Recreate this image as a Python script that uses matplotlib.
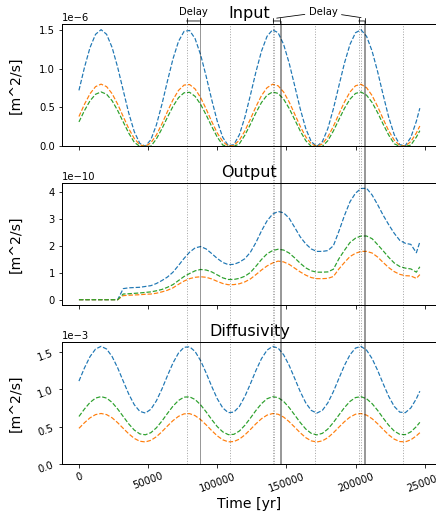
import matplotlib.pyplot as plt
import numpy as np
from matplotlib.lines import Line2D
from matplotlib.transforms import blended_transform_factory

# time axis [yr]
time = np.append(np.arange(0, 244001, 4000), 246500)

# input [1e-6 m^2/s]
input_blue = [0.720, 1.016, 1.270, 1.440, 1.500, 1.440, 1.270, 1.016, 0.720, 0.429,
              0.189, 0.039, 0.002, 0.086, 0.276, 0.541, 0.840, 1.125, 1.350, 1.478,
              1.490, 1.384, 1.176, 0.900, 0.600, 0.324, 0.116, 0.010, 0.022, 0.150,
              0.375, 0.660, 0.959, 1.224, 1.414, 1.498, 1.461, 1.311, 1.071, 0.780,
              0.484, 0.230, 0.060, 0.000, 0.060, 0.230, 0.484, 0.780, 1.071, 1.311,
              1.461, 1.498, 1.414, 1.224, 0.959, 0.660, 0.375, 0.150, 0.022, 0.010,
              0.116, 0.324, 0.491]
input_orange = [0.384, 0.542, 0.677, 0.768, 0.800, 0.768, 0.677, 0.542, 0.384, 0.229,
                0.101, 0.021, 0.001, 0.046, 0.147, 0.289, 0.448, 0.600, 0.720, 0.788,
                0.795, 0.738, 0.627, 0.480, 0.320, 0.173, 0.062, 0.005, 0.012, 0.080,
                0.200, 0.352, 0.511, 0.653, 0.754, 0.799, 0.779, 0.699, 0.571, 0.416,
                0.258, 0.123, 0.032, 0.000, 0.032, 0.123, 0.258, 0.416, 0.571, 0.699,
                0.779, 0.799, 0.754, 0.653, 0.511, 0.352, 0.200, 0.080, 0.012, 0.005,
                0.062, 0.173, 0.262]
input_green = [0.315, 0.461, 0.586, 0.670, 0.700, 0.670, 0.586, 0.461, 0.315, 0.171,
               0.053, 0.000, 0.000, 0.002, 0.096, 0.227, 0.375, 0.515, 0.626, 0.689,
               0.695, 0.643, 0.540, 0.404, 0.256, 0.120, 0.017, 0.000, 0.000, 0.034,
               0.145, 0.285, 0.433, 0.564, 0.658, 0.699, 0.681, 0.607, 0.489, 0.345,
               0.199, 0.074, 0.000, 0.000, 0.000, 0.074, 0.199, 0.345, 0.489, 0.607,
               0.681, 0.699, 0.658, 0.564, 0.433, 0.285, 0.145, 0.034, 0.000, 0.000,
               0.017, 0.120, 0.202]

# output [1e-10 m^2/s]
output_blue = [0, 0, 0, 0, 0, 0, 0, 0, 0.41, 0.44,
               0.45, 0.46, 0.49, 0.52, 0.60, 0.71, 0.84, 1.02, 1.27, 1.53,
               1.76, 1.92, 1.97, 1.88, 1.71, 1.53, 1.38, 1.30, 1.31, 1.39,
               1.52, 1.76, 2.12, 2.55, 2.92, 3.17, 3.27, 3.22, 3.02, 2.68,
               2.33, 2.07, 1.88, 1.79, 1.79, 1.82, 2.00, 2.54, 3.12, 3.63,
               3.95, 4.12, 4.13, 3.88, 3.52, 3.13, 2.78, 2.46, 2.20, 2.09,
               2.05, 1.74, 2.14]
output_orange = [0, 0, 0, 0, 0, 0, 0, 0, 0.15, 0.165,
                 0.175, 0.185, 0.20, 0.21, 0.24, 0.29, 0.35, 0.44, 0.57, 0.69,
                 0.78, 0.83, 0.85, 0.83, 0.77, 0.68, 0.60, 0.555, 0.56, 0.59,
                 0.66, 0.77, 0.93, 1.10, 1.25, 1.36, 1.43, 1.40, 1.31, 1.17,
                 1.03, 0.91, 0.82, 0.78, 0.78, 0.79, 0.86, 1.14, 1.38, 1.60,
                 1.72, 1.79, 1.79, 1.73, 1.58, 1.38, 1.19, 1.04, 0.94, 0.89,
                 0.88, 0.79, 0.93]
output_green = [0, 0, 0, 0, 0, 0, 0, 0, 0.21, 0.22,
                0.235, 0.25, 0.27, 0.29, 0.33, 0.38, 0.46, 0.56, 0.71, 0.86,
                0.97, 1.07, 1.12, 1.10, 1.03, 0.92, 0.81, 0.75, 0.75, 0.79,
                0.87, 1.01, 1.24, 1.49, 1.70, 1.82, 1.87, 1.84, 1.73, 1.55,
                1.35, 1.18, 1.07, 1.02, 1.02, 1.03, 1.13, 1.52, 1.83, 2.12,
                2.28, 2.36, 2.36, 2.26, 2.04, 1.81, 1.57, 1.36, 1.23, 1.17,
                1.14, 1.02, 1.22]

# diffusivity [1e-3 m^2/s]
diff_blue = [1.107, 1.283, 1.433, 1.534, 1.570, 1.534, 1.433, 1.283, 1.107, 0.934,
             0.792, 0.703, 0.681, 0.731, 0.844, 1.001, 1.179, 1.348, 1.481, 1.557,
             1.564, 1.501, 1.378, 1.214, 1.036, 0.872, 0.749, 0.686, 0.693, 0.769,
             0.903, 1.071, 1.249, 1.406, 1.519, 1.569, 1.547, 1.458, 1.316, 1.143,
             0.967, 0.817, 0.716, 0.680, 0.716, 0.817, 0.967, 1.143, 1.316, 1.458,
             1.547, 1.569, 1.519, 1.406, 1.249, 1.071, 0.903, 0.769, 0.693, 0.686,
             0.749, 0.872, 0.972]
diff_orange = [0.477, 0.552, 0.617, 0.660, 0.675, 0.660, 0.617, 0.552, 0.477, 0.404,
               0.343, 0.305, 0.296, 0.317, 0.365, 0.432, 0.508, 0.580, 0.637, 0.670,
               0.673, 0.646, 0.593, 0.523, 0.447, 0.377, 0.324, 0.297, 0.301, 0.333,
               0.390, 0.462, 0.538, 0.605, 0.653, 0.674, 0.665, 0.627, 0.566, 0.493,
               0.418, 0.353, 0.310, 0.295, 0.310, 0.353, 0.418, 0.493, 0.566, 0.627,
               0.665, 0.674, 0.653, 0.605, 0.538, 0.462, 0.390, 0.333, 0.301, 0.297,
               0.324, 0.377, 0.419]
diff_green = [0.635, 0.735, 0.822, 0.880, 0.900, 0.880, 0.822, 0.735, 0.635, 0.536,
              0.454, 0.403, 0.391, 0.419, 0.484, 0.574, 0.676, 0.773, 0.849, 0.893,
              0.897, 0.861, 0.790, 0.696, 0.594, 0.500, 0.430, 0.393, 0.397, 0.441,
              0.518, 0.614, 0.716, 0.806, 0.871, 0.899, 0.887, 0.836, 0.754, 0.655,
              0.555, 0.468, 0.410, 0.390, 0.410, 0.468, 0.555, 0.655, 0.754, 0.836,
              0.887, 0.899, 0.871, 0.806, 0.716, 0.614, 0.518, 0.441, 0.397, 0.393,
              0.430, 0.500, 0.557]

# marker times [yr]
peak_times = [77800, 109100, 140400, 141300, 171000, 202300, 203600, 234200]
delayed_times = [87300, 145300, 145900, 206200, 206800]
delays = [(77800, 87300), (140400, 145500), (202300, 206600)]

plt.rcParams['axes.linewidth'] = 1.0
fig, (ax1, ax2, ax3) = plt.subplots(3, 1, sharex=True, figsize=(436/72, 518/72), dpi=72)
fig.subplots_adjust(left=0.142, right=1.002, bottom=0.104, top=0.954, hspace=0.296)

panels = [(ax1, [input_blue, input_orange, input_green], 1e-6, 'Input'),
          (ax2, [output_blue, output_orange, output_green], 1e-10, 'Output'),
          (ax3, [diff_blue, diff_orange, diff_green], 1e-3, 'Diffusivity')]
for ax, series, scale, title in panels:
    for vals, c in zip(series, ['C0', 'C1', 'C2']):
        ax.plot(time, np.array(vals) * scale, '--', color=c, lw=1.2)
    ax.set_title(title, fontsize=16)
    ax.set_ylabel('[m^2/s]', fontsize=14)
    ax.yaxis.set_label_coords(-0.105, 0.5)

ax1.set_ylim(bottom=0)
ax3.set_ylim(bottom=0)
ax3.ticklabel_format(axis='y', style='sci', scilimits=(0, 0))
ax3.set_xlabel('Time [yr]', fontsize=14)
ax3.tick_params(axis='both', labelrotation=20)

trans = blended_transform_factory(ax3.transData, fig.transFigure)
for t in peak_times:
    fig.add_artist(Line2D([t, t], [0.104, 0.953], transform=trans,
                          ls=':', lw=1, color='k', alpha=0.35))
for t in delayed_times:
    fig.add_artist(Line2D([t, t], [0.104, 0.9595], transform=trans,
                          ls='-', lw=0.8, color='k', alpha=0.5))

for t1, t2 in delays:
    ax1.annotate('', xy=(t1, 0.9595), xytext=(t2, 0.9595), xycoords=trans, textcoords=trans,
                 annotation_clip=False,
                 arrowprops=dict(arrowstyle='|-|,widthA=0.25,widthB=0.25', lw=0.8,
                                 color='k', shrinkA=0, shrinkB=0))

ax1.text(82900, 0.977, 'Delay', transform=trans, ha='center', va='center', fontsize=10)
ax1.annotate('Delay', xy=(143000, 0.965), xytext=(176600, 0.977), xycoords=trans,
             textcoords=trans, ha='center', va='center', fontsize=10, annotation_clip=False,
             arrowprops=dict(arrowstyle='-', lw=0.8, color='k', shrinkB=0))
ax1.annotate('Delay', xy=(204000, 0.966), xytext=(176600, 0.977), xycoords=trans,
             textcoords=trans, ha='center', va='center', fontsize=10, color='none',
             annotation_clip=False,
             arrowprops=dict(arrowstyle='-', lw=0.8, color='k', shrinkB=0))

fig.savefig('out.png', dpi=72)
